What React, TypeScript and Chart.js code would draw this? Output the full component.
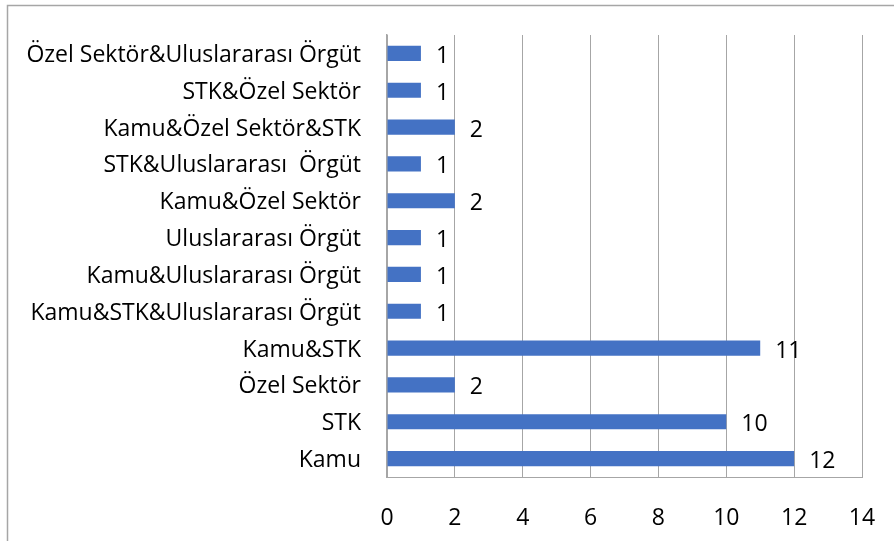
import React, { useEffect, useRef } from "react";
import { Chart, registerables } from "chart.js";

Chart.register(...registerables);

const categories = [
  "Özel Sektör&Uluslararası Örgüt",
  "STK&Özel Sektör",
  "Kamu&Özel Sektör&STK",
  "STK&Uluslararası  Örgüt",
  "Kamu&Özel Sektör",
  "Uluslararası Örgüt",
  "Kamu&Uluslararası Örgüt",
  "Kamu&STK&Uluslararası Örgüt",
  "Kamu&STK",
  "Özel Sektör",
  "STK",
  "Kamu",
];
const values = [1, 1, 2, 1, 2, 1, 1, 1, 11, 2, 10, 12];
const xMin = 0;
const xMax = 14;
const xStep = 2;

const FONT = "'Open Sans', 'Liberation Sans', sans-serif";
const FS = 23;

export default function App() {
  const ref = useRef<HTMLCanvasElement | null>(null);
  useEffect(() => {
    document.body.style.margin = "0";
    const canvas = ref.current;
    if (!canvas) return;
    const labelPlugin = {
      id: "valueLabels",
      afterDatasetsDraw(chart: any) {
        const ctx = chart.ctx;
        const meta = chart.getDatasetMeta(0);
        ctx.save();
        ctx.font = `${FS}px ${FONT}`;
        ctx.fillStyle = "#000";
        ctx.textAlign = "left";
        ctx.textBaseline = "middle";
        meta.data.forEach((el: any, i: number) => {
          ctx.fillText(String(values[i]), el.x + 15, el.y + 3);
        });
        ctx.restore();
      },
    };
    const borderPlugin = {
      id: "outerBorder",
      beforeDraw(chart: any) {
        const ctx = chart.ctx;
        ctx.save();
        ctx.fillStyle = "#fff";
        ctx.fillRect(0, 0, chart.width, chart.height);
        ctx.strokeStyle = "#a6a6a6";
        ctx.lineWidth = 1.5;
        ctx.beginPath();
        ctx.moveTo(7.5, chart.height + 5);
        ctx.lineTo(7.5, 5.5);
        ctx.lineTo(chart.width + 5, 5.5);
        ctx.stroke();
        ctx.restore();
      },
    };
    const chart = new Chart(canvas, {
      type: "bar",
      data: {
        labels: categories,
        datasets: [
          {
            data: values,
            backgroundColor: "#4472C4",
            borderWidth: 0,
            barPercentage: 0.41,
            categoryPercentage: 1,
          },
        ],
      },
      options: {
        indexAxis: "y",
        animation: false,
        responsive: false,
        maintainAspectRatio: false,
        layout: { padding: { left: 0, top: 35, right: 32, bottom: 0 } },
        plugins: {
          legend: { display: false },
          tooltip: { enabled: false },
        },
        scales: {
          x: {
            min: xMin,
            max: xMax,
            ticks: {
              stepSize: xStep,
              color: "#000",
              font: { family: FONT, size: FS },
              padding: 28,
            },
            grid: { color: "#a6a6a6", drawTicks: false, lineWidth: 1 },
            border: { display: true, color: "#a6a6a6", width: 1 },
            afterFit(scale: any) {
              scale.height = 64;
              scale.paddingRight = 0;
              scale.paddingLeft = 0;
            },
          },
          y: {
            ticks: {
              color: "#000",
              font: { family: FONT, size: FS },
              padding: 26,
              autoSkip: false,
              labelOffset: 2,
            },
            grid: { display: false, drawTicks: false },
            border: { display: true, color: "#a6a6a6", width: 1.5 },
            afterFit(scale: any) {
              scale.width = 387;
              scale.paddingTop = 0;
              scale.paddingBottom = 0;
            },
          },
        },
      },
      plugins: [borderPlugin, labelPlugin],
    });
    return () => chart.destroy();
  }, []);
  return <canvas ref={ref} width={894} height={541} style={{ display: "block" }} />;
}
